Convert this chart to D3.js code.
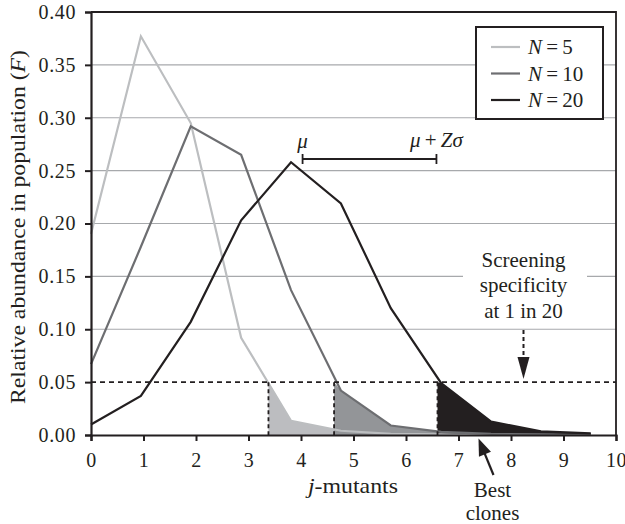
<!DOCTYPE html>
<html>
<head>
<meta charset="utf-8">
<script src="https://cdn.jsdelivr.net/npm/d3@7"></script>
<style>
  body { margin: 0; background: #fff; }
  svg, svg text { font-family: "Liberation Serif", "DejaVu Serif", "Times New Roman", serif; }
  text { fill: #231f20; }
</style>
</head>
<body>
<div id="chart"></div>
<script>
// Data
var xPositions = [0, 0.95, 1.9, 2.86, 3.81, 4.76, 5.71, 6.67, 7.62, 8.57, 9.52];
var n5Values  = [0.19, 0.377, 0.295, 0.092, 0.0135, 0.004, 0.001, 0.0005, 0, 0, 0];
var n10Values = [0.067, 0.178, 0.292, 0.265, 0.137, 0.042, 0.009, 0.003, 0.001, 0.0005, 0];
var n20Values = [0.01, 0.037, 0.107, 0.203, 0.258, 0.219, 0.12, 0.049, 0.0126, 0.0035, 0.0016];
var seriesNames = ["N = 5", "N = 10", "N = 20"];
var crossings = [3.38, 4.63, 6.6];   // where each curve drops below the threshold
var threshold = 0.05;
var yTicks = [0, 0.05, 0.1, 0.15, 0.2, 0.25, 0.3, 0.35, 0.4];
var xTicks = [0, 1, 2, 3, 4, 5, 6, 7, 8, 9, 10];
var muValue = 4.03, muZsValue = 6.58;

var lineColors = ["#bcbec0", "#6d6e71", "#231f20"];
var areaColors = ["#bcbdc0", "#939598", "#231f20"];
var serif = "Liberation Serif";

var svgWidth = 625, svgHeight = 524;
var margin = {top: 12, right: 9, bottom: 89, left: 91};

var svg = d3.select("#chart").append("svg")
  .attr("width", svgWidth)
  .attr("height", svgHeight)
  .attr("font-family", serif);

var xScale = d3.scaleLinear().domain([0, 10]).range([margin.left, svgWidth - margin.right]);
var yScale = d3.scaleLinear().domain([0, 0.4]).range([svgHeight - margin.bottom, margin.top]);

// gridlines
svg.append("g").selectAll("line")
  .data(yTicks.filter(d => d > 0 && d < 0.4 && d !== threshold))
  .enter().append("line")
  .attr("x1", xScale(0)).attr("x2", xScale(10))
  .attr("y1", d => yScale(d)).attr("y2", d => yScale(d))
  .attr("stroke", "#a7a9ac").attr("stroke-width", 1.2);

var series = [n5Values, n10Values, n20Values].map(function(vals) {
  return vals.map((v, i) => ({x: xPositions[i], y: v}));
});

// shaded tails beyond the threshold
var area = d3.area().x(d => xScale(d.x)).y0(yScale(0)).y1(d => yScale(d.y));
series.forEach(function(pts, i) {
  var tail = [{x: crossings[i], y: threshold}].concat(pts.filter(p => p.x > crossings[i]));
  svg.append("path").datum(tail)
    .attr("d", area)
    .attr("fill", areaColors[i]);
});

// curves
var line = d3.line().x(d => xScale(d.x)).y(d => yScale(d.y));
series.forEach(function(pts, i) {
  svg.append("path").datum(pts)
    .attr("d", line)
    .attr("fill", "none")
    .attr("stroke", lineColors[i])
    .attr("stroke-width", 2.2);
});

// threshold line and drop lines
svg.append("line")
  .attr("x1", xScale(0)).attr("x2", xScale(10))
  .attr("y1", yScale(threshold)).attr("y2", yScale(threshold))
  .attr("stroke", "#231f20").attr("stroke-width", 1.6)
  .attr("stroke-dasharray", "5,4");
svg.append("g").selectAll("line")
  .data(crossings).enter().append("line")
  .attr("x1", d => xScale(d)).attr("x2", d => xScale(d))
  .attr("y1", yScale(threshold)).attr("y2", yScale(0))
  .attr("stroke", "#231f20").attr("stroke-width", 1.8)
  .attr("stroke-dasharray", "4,3");

// axes
var leftAxis = d3.axisLeft(yScale).tickValues(yTicks).tickFormat(d3.format(".2f")).tickSizeOuter(0).tickSize(6).tickPadding(9);
var bottomAxis = d3.axisBottom(xScale).tickValues(xTicks).tickFormat(d3.format("d")).tickSizeOuter(0).tickSize(6).tickPadding(12);

var gy = svg.append("g").attr("transform", `translate(${xScale(0)},0)`).call(leftAxis);
var gx = svg.append("g").attr("transform", `translate(0,${yScale(0)})`).call(bottomAxis);
[gx, gy].forEach(function(g) {
  g.attr("font-family", serif).attr("font-size", null);
  g.select(".domain").attr("stroke", "#231f20").attr("stroke-width", 2.2);
  g.selectAll(".tick line").attr("stroke", "#231f20").attr("stroke-width", 2);
  g.selectAll(".tick text").attr("font-size", "20px").attr("fill", "#231f20")
    .attr("font-family", serif).style("letter-spacing", "0.6px");
});

// frame top and right
svg.append("path")
  .attr("d", `M${xScale(0)},${yScale(0.4)}H${xScale(10)}V${yScale(0)}`)
  .attr("fill", "none").attr("stroke", "#231f20").attr("stroke-width", 1.8);

// legend
var legend = svg.append("g");
legend.append("rect")
  .attr("x", 476).attr("y", 27).attr("width", 127).attr("height", 92)
  .attr("fill", "#fff").attr("stroke", "#231f20").attr("stroke-width", 2);
seriesNames.forEach(function(name, i) {
  var ly = 47 + i * 26.5;
  legend.append("line")
    .attr("x1", 491).attr("x2", 520).attr("y1", ly).attr("y2", ly)
    .attr("stroke", lineColors[i]).attr("stroke-width", 2.2);
  var t = legend.append("text").attr("x", 528).attr("y", ly + 7).attr("font-size", "21px");
  t.append("tspan").attr("font-style", "italic").text("N");
  t.append("tspan").text(name.slice(1).replace(/ /g, "\u2009"));
});

// mu annotation
var barY = yScale(0.261);
svg.append("line")
  .attr("x1", xScale(muValue)).attr("x2", xScale(muZsValue))
  .attr("y1", barY).attr("y2", barY)
  .attr("stroke", "#231f20").attr("stroke-width", 1.8);
[muValue, muZsValue].forEach(function(v) {
  svg.append("line")
    .attr("x1", xScale(v)).attr("x2", xScale(v))
    .attr("y1", barY - 5).attr("y2", barY + 5)
    .attr("stroke", "#231f20").attr("stroke-width", 1.8);
});
svg.append("text").attr("x", xScale(muValue)).attr("y", barY - 11)
  .attr("text-anchor", "middle").attr("font-size", "21px").attr("font-style", "italic").text("μ");
var mz = svg.append("text").attr("x", xScale(muZsValue)).attr("y", barY - 12)
  .attr("text-anchor", "middle").attr("font-size", "21px");
mz.append("tspan").attr("font-style", "italic").text("μ");
mz.append("tspan").text("\u2009+\u2009");
mz.append("tspan").attr("font-style", "italic").text("Zσ");

// screening specificity note
var noteX = 523.5;
svg.append("rect").attr("x", 463).attr("y", 250).attr("width", 124).attr("height", 72).attr("fill", "#fff");
["Screening", "specificity", "at 1 in 20"].forEach(function(s, i) {
  svg.append("text").attr("x", noteX).attr("y", 266.5 + i * 25.5)
    .attr("text-anchor", "middle").attr("font-size", "21px").text(s);
});
svg.append("line").attr("x1", noteX).attr("x2", noteX).attr("y1", 330).attr("y2", 360)
  .attr("stroke", "#231f20").attr("stroke-width", 2).attr("stroke-dasharray", "4,3");
svg.append("path").attr("d", `M${noteX - 6},357L${noteX + 6},357L${noteX},379Z`).attr("fill", "#231f20");

// best clones arrow
var ax0 = 493.5, ay0 = 475, ax1 = 478.5, ay1 = 438.5;
var ang = Math.atan2(ay1 - ay0, ax1 - ax0);
svg.append("line").attr("x1", ax0).attr("y1", ay0)
  .attr("x2", ax1 - 12 * Math.cos(ang)).attr("y2", ay1 - 12 * Math.sin(ang))
  .attr("stroke", "#231f20").attr("stroke-width", 2.2);
svg.append("path")
  .attr("d", "M0,0L-17,-6.5L-17,6.5Z")
  .attr("transform", `translate(${ax1},${ay1}) rotate(${ang * 180 / Math.PI})`)
  .attr("fill", "#231f20");
svg.append("text").attr("x", 492.5).attr("y", 496.5).attr("text-anchor", "middle").attr("font-size", "21px").text("Best");
svg.append("text").attr("x", 492.5).attr("y", 520).attr("text-anchor", "middle").attr("font-size", "21px").text("clones");

// axis titles
var xt = svg.append("text").attr("x", 353).attr("y", 493).attr("text-anchor", "middle").attr("font-size", "21px")
  .attr("textLength", 90).attr("lengthAdjust", "spacingAndGlyphs");
xt.append("tspan").attr("font-style", "italic").text("j");
xt.append("tspan").text("-mutants");

var yt = svg.append("text")
  .attr("transform", "translate(25,227) rotate(-90)")
  .attr("text-anchor", "middle").attr("font-size", "21px")
  .attr("textLength", 354).attr("lengthAdjust", "spacingAndGlyphs");
yt.append("tspan").text("Relative abundance in population (");
yt.append("tspan").attr("font-style", "italic").text("F");
yt.append("tspan").text(")");
</script>
</body>
</html>
